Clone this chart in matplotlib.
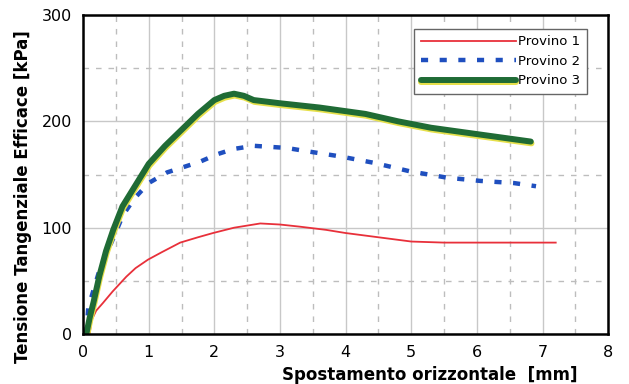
import numpy as np
import matplotlib.pyplot as plt
import matplotlib.patheffects as pe
from matplotlib.ticker import MultipleLocator

# Provino 1 (rosso)
x1 = [0.10, 0.13, 0.20, 0.30, 0.45, 0.66, 0.80, 0.99, 1.2, 1.48, 1.75, 1.98, 2.3, 2.7,
      3.0, 3.3, 3.7, 4.0, 4.5, 5.0, 5.5, 6.0, 6.5, 7.2]
y1 = [0, 13, 22, 29, 40, 54, 62, 70, 77, 86, 91, 95, 100, 104,
      103, 101, 98, 95, 91, 87, 86, 86, 86, 86]

# Provino 2 (blu tratteggiato)
x2 = [0.05, 0.08, 0.25, 0.46, 0.61, 0.79, 1.0, 1.28, 1.78, 2.04, 2.29, 2.6, 3.1, 3.4, 3.92,
      4.43, 4.98, 5.55, 6.05, 6.56, 6.9]
y2 = [0, 25, 60, 90, 112, 128, 142, 152, 162, 169, 174, 177, 175, 172, 167,
      161, 153, 147, 144, 142, 139]

# Provino 3 (verde spesso)
x3 = [0.05, 0.10, 0.16, 0.25, 0.35, 0.46, 0.60, 0.80, 1.0, 1.25, 1.5, 1.75, 2.0, 2.15,
      2.3, 2.45, 2.6, 3.0, 3.6, 4.3, 4.8, 5.3, 6.0, 6.82]
y3 = [0, 15, 30, 55, 78, 98, 120, 140, 160, 177, 192, 207, 220, 224,
      226, 224, 220, 217, 213, 207, 200, 194, 188, 181]

fig = plt.figure(figsize=(6.29, 3.84), dpi=100)
ax = fig.add_axes([0.132, 0.130, 0.835, 0.831])

ax.plot(x1, y1, color='#e8303a', lw=1.3, label='Provino 1')
ax.plot(x2, y2, color='#1f4fbf', lw=3.2, dashes=(1.6, 2.6), label='Provino 2')
ax.plot(x3, y3, color='#1f6b35', lw=4.3, solid_capstyle='round', label='Provino 3',
        path_effects=[pe.Stroke(linewidth=4.3, offset=(0.5, -1.3), foreground='#e6e04a'),
                      pe.Normal()])

ax.set_xlim(0, 8)
ax.set_ylim(0, 300)
ax.xaxis.set_major_locator(MultipleLocator(1))
ax.xaxis.set_minor_locator(MultipleLocator(0.5))
ax.yaxis.set_major_locator(MultipleLocator(100))
ax.yaxis.set_minor_locator(MultipleLocator(50))
ax.grid(which='major', color='#c8c8c8', lw=1.0)
ax.grid(which='minor', color='#bdbdbd', lw=1.0, ls=(0, (4, 5)))
ax.set_axisbelow(True)
ax.tick_params(which='both', length=0, labelsize=11.5, pad=8)

for s in ax.spines.values():
    s.set_linewidth(1.8)
    s.set_color('black')

ax.set_xlabel('Spostamento orizzontale  [mm]', fontsize=12, fontweight='bold')
ax.xaxis.set_label_coords(0.66, -0.10)
ax.set_ylabel('Tensione Tangenziale Efficace [kPa]', fontsize=12, fontweight='bold')
ax.yaxis.set_label_coords(-0.098, 0.43)

leg = ax.legend(loc='upper right', bbox_to_anchor=(0.972, 0.978), fontsize=9.5,
                handlelength=7.2, fancybox=False, edgecolor='#666666', framealpha=1,
                borderpad=0.5, labelspacing=0.5, handletextpad=0.2)
leg.get_frame().set_linewidth(1.0)

fig.savefig('out.png', dpi=100)
